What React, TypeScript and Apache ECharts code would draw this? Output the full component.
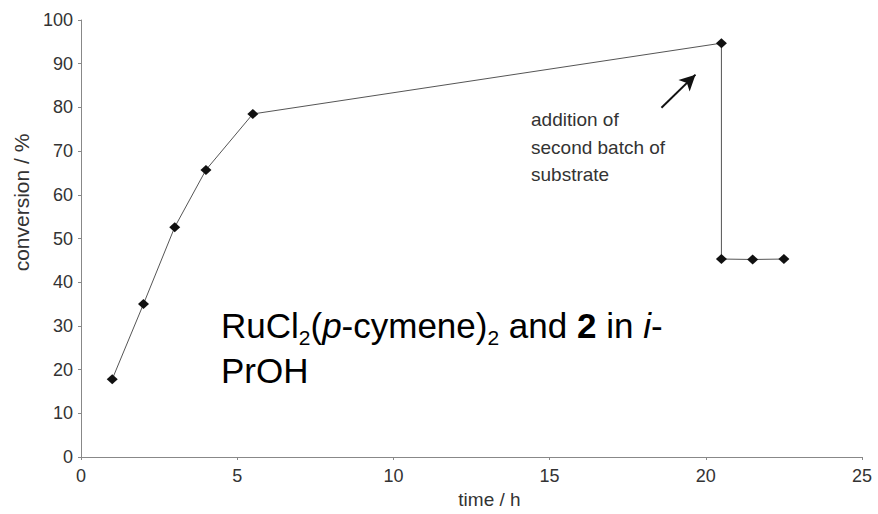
import React, { useEffect, useRef } from "react";
import * as echarts from "echarts";

const timeH = [1, 2, 3, 4, 5.5, 20.5, 20.5, 21.5, 22.5];
const conversion = [17.8, 35, 52.6, 65.7, 78.5, 94.7, 45.3, 45.2, 45.3];
const arrowFrom = [18.58, 79.9];
const arrowTo = [19.67, 87.5];
const xTitle = "time / h";
const yTitle = "conversion / %";
const noteLines = ["addition of", "second batch of", "substrate"];

export default function App() {
  const ref = useRef<HTMLDivElement>(null);
  useEffect(() => {
    if (!ref.current) return;
    const chart = echarts.init(ref.current, undefined, { renderer: "svg" });
    const font = "'Liberation Sans', Arial, Helvetica, sans-serif";
    chart.setOption({
      animation: false,
      backgroundColor: "#fff",
      textStyle: { fontFamily: font },
      grid: { left: 81, right: 16, top: 20, bottom: 57, containLabel: false },
      xAxis: {
        type: "value",
        min: 0,
        max: 25,
        interval: 5,
        name: xTitle,
        nameLocation: "middle",
        nameGap: 30,
        nameTextStyle: { fontSize: 19, color: "#333", fontFamily: font, padding: [0, 0, 0, 36] },
        axisLine: { lineStyle: { color: "#888", width: 1 } },
        axisTick: { show: true, length: 3, lineStyle: { color: "#888" } },
        axisLabel: { fontSize: 18, color: "#333", margin: 10, fontFamily: font },
        splitLine: { show: false },
      },
      yAxis: {
        type: "value",
        min: 0,
        max: 100,
        interval: 10,
        name: yTitle,
        nameLocation: "middle",
        nameGap: 48,
        nameTextStyle: { fontSize: 21, color: "#333", fontFamily: font, padding: [0, 0, 0, 72] },
        axisLine: { show: true, lineStyle: { color: "#888", width: 1 } },
        axisTick: { show: true, length: 3, lineStyle: { color: "#888" } },
        axisLabel: { fontSize: 18, color: "#333", margin: 8, fontFamily: font },
        splitLine: { show: false },
      },
      series: [
        {
          type: "line",
          data: timeH.map((t, i) => [t, conversion[i]]),
          symbol: "diamond",
          symbolSize: [11, 10],
          itemStyle: { color: "#111" },
          lineStyle: { color: "#555", width: 1 },
          markLine: {
            silent: true,
            symbol: ["none", "arrow"],
            symbolSize: [12, 16],
            label: { show: false },
            lineStyle: { color: "#111", width: 2, type: "solid" },
            data: [[{ coord: arrowFrom }, { coord: arrowTo }]],
          },
        },
      ],
      graphic: [
        {
          type: "text",
          left: 531,
          top: 106,
          style: {
            text: noteLines.join("\n"),
            fontSize: 19,
            lineHeight: 27.5,
            fill: "#333",
            fontFamily: font,
          },
        },
        {
          type: "text",
          left: 221,
          top: 308,
          style: {
            text: "{n|RuCl}{s|2}{n|(}{i|p}{n|-cymene)}{s|2}{n| and }{b|2}{n| in }{i|i}{n|-}\n{n|PrOH}",
            fill: "#000",
            fontFamily: font,
            rich: {
              n: { fontSize: 35, lineHeight: 45, fontFamily: font, fill: "#000" },
              i: { fontSize: 35, lineHeight: 45, fontStyle: "italic", fontFamily: font, fill: "#000" },
              b: { fontSize: 35, lineHeight: 45, fontWeight: "bold", fontFamily: font, fill: "#000" },
              s: { fontSize: 21, lineHeight: 14, verticalAlign: "bottom", fontFamily: font, fill: "#000" },
            },
          },
        },
      ],
    });
    return () => chart.dispose();
  }, []);
  return <div ref={ref} style={{ width: 878, height: 514, position: "absolute", left: 0, top: 0 }} />;
}
